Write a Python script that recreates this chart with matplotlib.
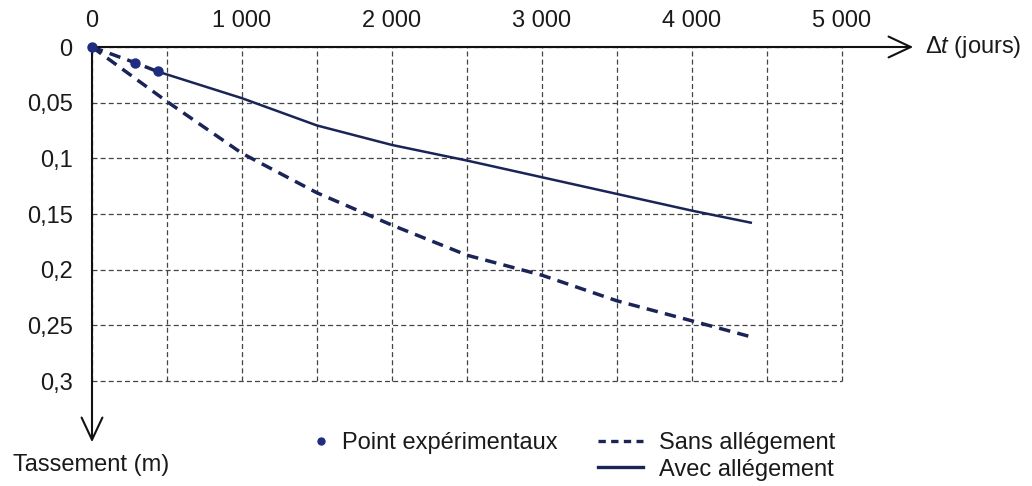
import numpy as np
import matplotlib.pyplot as plt
from matplotlib.lines import Line2D

plt.rcParams['font.family'] = ['Liberation Sans', 'DejaVu Sans']
plt.rcParams['mathtext.fontset'] = 'custom'
plt.rcParams['mathtext.rm'] = 'Liberation Sans'
plt.rcParams['mathtext.it'] = 'Liberation Sans:italic'

# experimental points (days, settlement in m)
pts_t = [0, 285, 437]
pts_s = [0, 0.014, 0.022]

# without load relief
sans_t = [0, 500, 1000, 1500, 2000, 2500, 3000, 3500, 4000, 4385]
sans_s = [0, 0.049, 0.0955, 0.131, 0.160, 0.187, 0.205, 0.228, 0.246, 0.260]

# with load relief
avec_t = [437, 1000, 1500, 2000, 2500, 3000, 3500, 4000, 4400]
avec_s = [0.022, 0.046, 0.0705, 0.088, 0.102, 0.117, 0.132, 0.147, 0.158]

xticks = [0, 1000, 2000, 3000, 4000, 5000]
xlabels = ['0', '1 000', '2 000', '3 000', '4 000', '5 000']
yticks = [0, 0.05, 0.1, 0.15, 0.2, 0.25, 0.3]
ylabels = ['0', '0,05', '0,1', '0,15', '0,2', '0,25', '0,3']

navy = '#1b2456'
dot_col = '#1f2d80'
txt = '#1a1a1a'
fs = 17

fig = plt.figure(figsize=(10.32, 4.86), dpi=100)
W, H = 1032, 486
ax = fig.add_axes([92 / W, 1 - 381 / H, 750 / W, 334 / H])
ax.set_xlim(0, 5000)
ax.set_ylim(0.3, 0)
for s in ax.spines.values():
    s.set_visible(False)

ax.xaxis.tick_top()
ax.set_xticks(xticks)
ax.set_xticklabels(xlabels)
ax.set_xticks(np.arange(500, 5001, 1000), minor=True)
ax.set_yticks(yticks)
ax.set_yticklabels(ylabels)
ax.tick_params(which='both', length=0, labelsize=fs, labelcolor=txt)
ax.tick_params(axis='x', pad=11)
ax.tick_params(axis='y', pad=14)
ax.grid(True, which='both', color='#444444', lw=0.9, ls=(0, (4, 2.5)))
for gl in ax.xaxis.get_gridlines() + ax.yaxis.get_gridlines():
    gl.set_clip_on(False)
for t in ax.xaxis.get_minor_ticks():
    t.gridline.set_clip_on(False)

# curves
ax.plot(sans_t, sans_s, color=navy, lw=2.5, ls=(0, (3.3, 2.1)), clip_on=False)
ax.plot(pts_t, pts_s, color=navy, lw=2.5, ls=(0, (3.3, 2.1)), clip_on=False)
ax.plot(avec_t, avec_s, color=navy, lw=1.8, solid_capstyle='butt', clip_on=False)
ax.plot(pts_t, pts_s, 'o', color=dot_col, ms=6.5, clip_on=False, zorder=5)

# axes drawn as arrows
arrow = dict(arrowstyle='->,head_length=1.6,head_width=0.75', color='#111111', lw=1.5,
             shrinkA=0, shrinkB=0)
ax.annotate('', xy=(5475, 0), xytext=(0, 0), arrowprops=arrow, annotation_clip=False)
ax.annotate('', xy=(0, 0.355), xytext=(0, 0), arrowprops=arrow, annotation_clip=False)

fig.text(925 / W, 1 - 47 / H, r'$\Delta\mathit{t}$ (jours)', fontsize=fs, color=txt,
         ha='left', va='center')
fig.text(91 / W, 1 - 465 / H, 'Tassement (m)', fontsize=fs, color=txt,
         ha='center', va='center')

# legend
h_pts = Line2D([], [], ls='none', marker='o', color=dot_col, ms=5)
h_sans = Line2D([], [], color=navy, lw=2.4, ls=(0, (2.2, 1.6)))
h_avec = Line2D([], [], color=navy, lw=2.4)
leg1 = fig.legend([h_pts], ['Point expérimentaux'], loc='upper left',
                  bbox_to_anchor=(310 / W, 1 - 432 / H), frameon=False, fontsize=fs,
                  handlelength=0.9, handletextpad=0.45, borderpad=0, borderaxespad=0,
                  labelcolor=txt)
leg2 = fig.legend([h_sans, h_avec], ['Sans allégement', 'Avec allégement'], loc='upper left',
                  bbox_to_anchor=(598 / W, 1 - 432 / H), frameon=False, fontsize=fs,
                  handlelength=1.9, handletextpad=0.68, borderpad=0, borderaxespad=0,
                  labelspacing=0.2, labelcolor=txt)

fig.savefig('out.png', dpi=100, facecolor='white')
